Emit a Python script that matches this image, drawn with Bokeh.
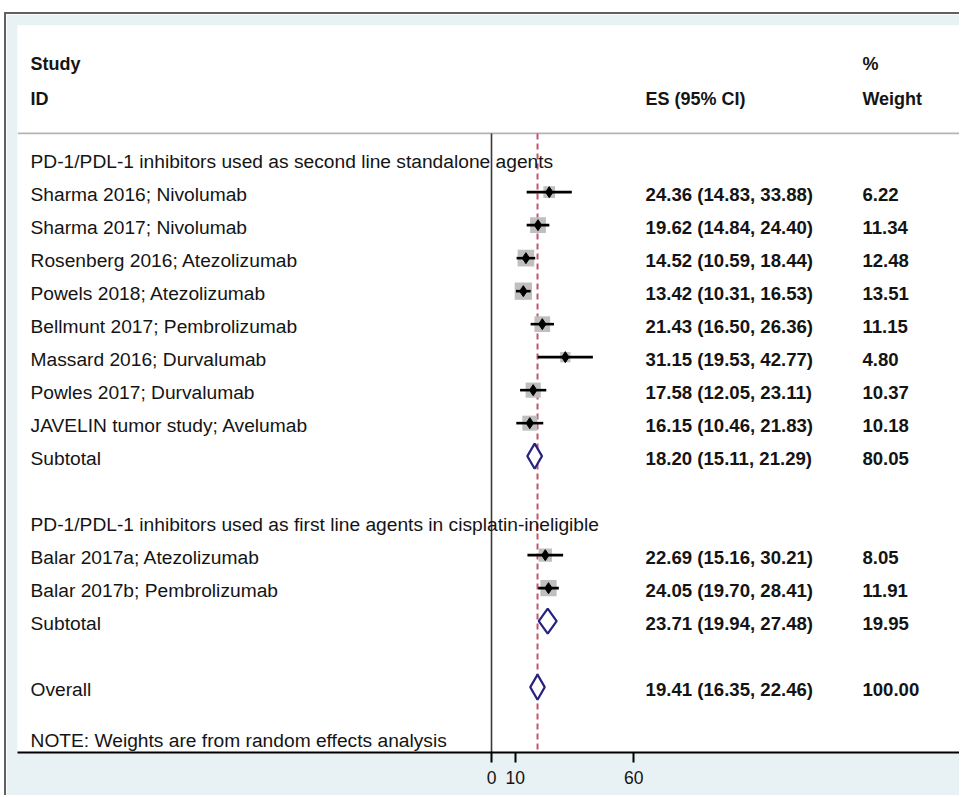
from bokeh.plotting import figure
from bokeh.models import Range1d, FixedTicker, LinearAxis, ColumnDataSource
from bokeh.core.properties import value
from bokeh.embed import file_html
from bokeh.resources import INLINE
import numpy as np

# ---- data ----
group_titles = [
    "PD-1/PDL-1 inhibitors used as second line standalone agents",
    "PD-1/PDL-1 inhibitors used as first line agents in cisplatin-ineligible",
]
studies_g1 = [
    "Sharma 2016; Nivolumab",
    "Sharma 2017; Nivolumab",
    "Rosenberg 2016; Atezolizumab",
    "Powels 2018; Atezolizumab",
    "Bellmunt 2017; Pembrolizumab",
    "Massard 2016; Durvalumab",
    "Powles 2017; Durvalumab",
    "JAVELIN tumor study; Avelumab",
]
es_g1 = [24.36, 19.62, 14.52, 13.42, 21.43, 31.15, 17.58, 16.15]
lo_g1 = [14.83, 14.84, 10.59, 10.31, 16.50, 19.53, 12.05, 10.46]
hi_g1 = [33.88, 24.40, 18.44, 16.53, 26.36, 42.77, 23.11, 21.83]
wt_g1 = [6.22, 11.34, 12.48, 13.51, 11.15, 4.80, 10.37, 10.18]

studies_g2 = ["Balar 2017a; Atezolizumab", "Balar 2017b; Pembrolizumab"]
es_g2 = [22.69, 24.05]
lo_g2 = [15.16, 19.70]
hi_g2 = [30.21, 28.41]
wt_g2 = [8.05, 11.91]

subtotal_es = [18.20, 23.71]
subtotal_lo = [15.11, 19.94]
subtotal_hi = [21.29, 27.48]
subtotal_wt = [80.05, 19.95]

overall_es = 19.41
overall_lo = 16.35
overall_hi = 22.46
overall_wt = 100.00

note_text = "NOTE: Weights are from random effects analysis"
axis_ticks = [0, 10, 60]

# ---- layout of rows (row index grows downward) ----
rows_g1 = list(range(1, 1 + len(studies_g1)))
sub1_row = rows_g1[-1] + 1
head2_row = sub1_row + 2
rows_g2 = list(range(head2_row + 1, head2_row + 1 + len(studies_g2)))
sub2_row = rows_g2[-1] + 1
overall_row = sub2_row + 2

FONT = value("Liberation Sans")
INK = "#141414"
LABEL_X = -194.5
ES_X = 65.0
WT_X = 156.5
TOP_Y = -4.05
BOT_Y = 17.98
RULE_Y = -0.78

p = figure(
    width=955, height=783, margin=(12, 0, 0, 4),
    x_range=Range1d(-200, 198.3), y_range=Range1d(BOT_Y, TOP_Y),
    output_backend="svg", toolbar_location=None,
    x_axis_location=None, y_axis_location=None,
    min_border_left=11, min_border_right=0, min_border_top=11, min_border_bottom=45,
    background_fill_color="white", border_fill_color="#e8f1f3",
    outline_line_color=None,
)
# frame edge along the top and left of the graph region
p.styles = {"border-top": "2px solid #606060", "border-left": "2px solid #606060"}
p.grid.visible = False

# horizontal rule under the header
p.segment(x0=[-200], y0=[RULE_Y], x1=[198.3], y1=[RULE_Y], line_color="#b4b4b4", line_width=1.6)
# no-effect line at 0 and overall estimate line
p.segment(x0=[0], y0=[RULE_Y], x1=[0], y1=[BOT_Y], line_color="#3a3a3a", line_width=1.6)
p.segment(x0=[overall_es], y0=[RULE_Y], x1=[overall_es], y1=[BOT_Y],
          line_color="#c4566b", line_width=2, line_dash="6 4")

# study estimates
all_rows = rows_g1 + rows_g2
all_es = es_g1 + es_g2
all_lo = lo_g1 + lo_g2
all_hi = hi_g1 + hi_g2
all_wt = wt_g1 + wt_g2
box = [4.7 * np.sqrt(w) for w in all_wt]
src = ColumnDataSource(dict(y=all_rows, es=all_es, lo=all_lo, hi=all_hi, box=box))
p.rect(x="es", y="y", width="box", height="box", width_units="screen", height_units="screen",
       source=src, fill_color="#bfbfbf", line_color=None)
p.segment(x0="lo", y0="y", x1="hi", y1="y", source=src, line_color="black", line_width=2.6)
p.scatter(x="es", y="y", source=src, marker="diamond", size=11, color="black")

# pooled diamonds
dh = 0.38
pool_rows = [sub1_row, sub2_row, overall_row]
pool_es = subtotal_es + [overall_es]
pool_lo = subtotal_lo + [overall_lo]
pool_hi = subtotal_hi + [overall_hi]
xs = [[l, e, h, e] for l, e, h in zip(pool_lo, pool_es, pool_hi)]
ys = [[r, r - dh, r, r + dh] for r in pool_rows]
p.patches(xs=xs, ys=ys, fill_color="white", line_color="#25237f", line_width=2.2)

# text columns
TY = 2  # pixel nudge for text centring


def put(x, y, txt, bold=False, size="19.2px"):
    p.text(x=x, y=y, text=txt, text_font=FONT, text_font_size=size,
           text_font_style="bold" if bold else "normal", text_color=INK,
           text_baseline="middle", text_align="left", y_offset=TY)


put([LABEL_X, LABEL_X], [-2.93, -1.87], ["Study", "ID"], bold=True, size="18px")
put([ES_X], [-1.87], ["ES (95% CI)"], bold=True, size="18px")
put([WT_X, WT_X], [-2.93, -1.87], ["%", "Weight"], bold=True, size="18px")

label_rows = [0] + rows_g1 + [sub1_row, head2_row] + rows_g2 + [sub2_row, overall_row]
label_txt = [group_titles[0]] + studies_g1 + ["Subtotal", group_titles[1]] + studies_g2 + ["Subtotal", "Overall"]
put([LABEL_X] * len(label_rows), label_rows, label_txt)

es_rows = all_rows[:len(rows_g1)] + [sub1_row] + rows_g2 + [sub2_row, overall_row]
es_vals = es_g1 + [subtotal_es[0]] + es_g2 + [subtotal_es[1], overall_es]
lo_vals = lo_g1 + [subtotal_lo[0]] + lo_g2 + [subtotal_lo[1], overall_lo]
hi_vals = hi_g1 + [subtotal_hi[0]] + hi_g2 + [subtotal_hi[1], overall_hi]
wt_vals = wt_g1 + [subtotal_wt[0]] + wt_g2 + [subtotal_wt[1], overall_wt]
es_txt = [f"{e:.2f} ({l:.2f}, {h:.2f})" for e, l, h in zip(es_vals, lo_vals, hi_vals)]
wt_txt = [f"{w:.2f}" for w in wt_vals]
put([ES_X] * len(es_rows), es_rows, es_txt, bold=True, size="18.6px")
put([WT_X] * len(es_rows), es_rows, wt_txt, bold=True, size="18.6px")

put([LABEL_X], [17.55], [note_text])

# x axis
ax = LinearAxis(ticker=FixedTicker(ticks=axis_ticks))
ax.axis_line_color = "black"
ax.axis_line_width = 2
ax.major_tick_out = 10
ax.major_tick_in = 0
ax.major_tick_line_color = "black"
ax.major_tick_line_width = 2
ax.minor_tick_line_color = None
ax.major_label_standoff = 8
ax.major_label_text_font = "Liberation Sans"
ax.major_label_text_font_size = "17.5px"
ax.major_label_text_color = INK
p.add_layout(ax, "below")

open("out.html", "w").write(file_html(p, INLINE))
